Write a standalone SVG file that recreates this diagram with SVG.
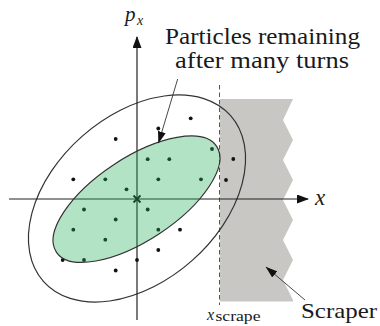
<svg xmlns="http://www.w3.org/2000/svg" width="380" height="326" viewBox="0 0 380 326">
<style>
  .ax{stroke:#222;stroke-width:1.2;fill:none}
  .ell{stroke:#333;stroke-width:1.2;fill:none}
  .dot{fill:#111}
  .ptr{stroke:#333;stroke-width:0.9;fill:none}
  .it{font-style:italic}
</style>
<defs>
  <marker id="axhead" viewBox="0 0 12 9" refX="11" refY="4.5" markerWidth="12" markerHeight="9" orient="auto" markerUnits="userSpaceOnUse">
    <path d="M0,0 L12,4.5 L0,9 Z" fill="#111"/>
  </marker>
  <marker id="ptrhead" viewBox="0 0 12 8" refX="11.5" refY="4" markerWidth="12" markerHeight="8" orient="auto" markerUnits="userSpaceOnUse">
    <path d="M0,0 L12,4 L0,8 Z" fill="#111"/>
  </marker>
</defs>
<rect width="380" height="326" fill="#fff"/>

<g id="scraper">
  <path d="M220,99 L293,99 L283,120 L293,140 L283,160 L293,180 L283,200 L293,220 L283,240 L293,260 L283,280 L293,300 L293,301.5 L220,301.5 Z" fill="#c8c7c3"/>
  <line x1="219.5" y1="85" x2="219.5" y2="305" stroke="#555" stroke-width="1" stroke-dasharray="4.5 3"/>
</g>

<g id="outer-ellipse">
  <ellipse class="ell" cx="137" cy="198.5" rx="125" ry="83" transform="rotate(-41.5 137 198.5)"/>
</g>

<g id="axes">
  <line class="ax" x1="9" y1="199" x2="308" y2="199" marker-end="url(#axhead)"/>
  <line class="ax" x1="137" y1="320" x2="137" y2="37" marker-end="url(#axhead)"/>
  <path d="M133.5,195.5 L140.5,202.5 M140.5,195.5 L133.5,202.5" stroke="#111" stroke-width="1.8"/>
</g>

<g id="particles">
  <circle class="dot" cx="115.7" cy="139" r="1.9"/>
  <circle class="dot" cx="158.3" cy="128.5" r="1.9"/>
  <circle class="dot" cx="190.7" cy="118.3" r="1.9"/>
  <circle class="dot" cx="73.3" cy="179.3" r="1.9"/>
  <circle class="dot" cx="105.3" cy="179.3" r="1.9"/>
  <circle class="dot" cx="126.5" cy="189.3" r="1.9"/>
  <circle class="dot" cx="147.7" cy="159.2" r="1.9"/>
  <circle class="dot" cx="169.3" cy="159.2" r="1.9"/>
  <circle class="dot" cx="158.3" cy="179.3" r="1.9"/>
  <circle class="dot" cx="212" cy="149" r="1.9"/>
  <circle class="dot" cx="233.3" cy="159" r="1.9"/>
  <circle class="dot" cx="201" cy="179.3" r="1.9"/>
  <circle class="dot" cx="226" cy="180" r="1.9"/>
  <circle class="dot" cx="84" cy="209.5" r="1.9"/>
  <circle class="dot" cx="147.7" cy="209.5" r="1.9"/>
  <circle class="dot" cx="115.7" cy="219.5" r="1.9"/>
  <circle class="dot" cx="73.3" cy="229.7" r="1.9"/>
  <circle class="dot" cx="105.3" cy="239.7" r="1.9"/>
  <circle class="dot" cx="158.3" cy="229.7" r="1.9"/>
  <circle class="dot" cx="180" cy="229.7" r="1.9"/>
  <circle class="dot" cx="62.7" cy="260" r="1.9"/>
  <circle class="dot" cx="84" cy="260" r="1.9"/>
  <circle class="dot" cx="137" cy="260" r="1.9"/>
  <circle class="dot" cx="158.3" cy="250" r="1.9"/>
  <circle class="dot" cx="115.7" cy="270.5" r="1.9"/>
</g>

<g id="inner-ellipse">
  <ellipse cx="136.5" cy="199.2" rx="96" ry="41.4" transform="rotate(-33.4 136.5 199.2)" fill="#26af59" fill-opacity="0.35" stroke="#333" stroke-width="1.2"/>
</g>

<g id="connectors">
  <line class="ptr" x1="177.7" y1="79" x2="158.5" y2="143" marker-end="url(#ptrhead)"/>
  <line class="ptr" x1="305" y1="300" x2="266" y2="267" marker-end="url(#ptrhead)"/>
</g>

<g id="labels" fill="#1a1a1a" font-family="Liberation Serif, Times New Roman, serif">
  <text class="it" x="125" y="21" font-size="21">p</text>
  <text class="it" x="137" y="24.5" font-size="14">x</text>
  <text class="it" x="315" y="205" font-size="23">x</text>
  <text x="165" y="44" font-size="23" textLength="195" lengthAdjust="spacingAndGlyphs">Particles remaining</text>
  <text x="175" y="67.5" font-size="23" textLength="174" lengthAdjust="spacingAndGlyphs">after many turns</text>
  <text class="it" x="207" y="319.5" font-size="16">x</text>
  <text x="215.5" y="321" font-size="15" textLength="45" lengthAdjust="spacingAndGlyphs">scrape</text>
  <text x="301" y="318" font-size="22" textLength="76" lengthAdjust="spacingAndGlyphs">Scraper</text>
</g>
</svg>
